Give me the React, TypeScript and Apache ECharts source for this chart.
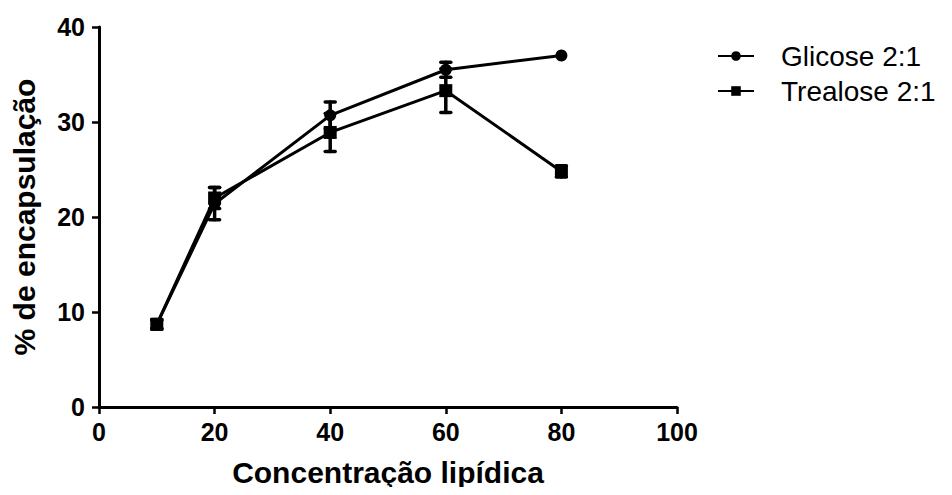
import React, { useEffect, useRef } from "react";
import * as echarts from "echarts";

const concentrations = [10, 20, 40, 60, 80];
const glicose = [8.7, 21.4, 30.7, 35.5, 37.0];
const glicoseErr = [0.4, 1.7, 1.4, 0.8, 0];
const trealose = [8.7, 22.0, 28.9, 33.3, 24.8];
const trealoseErr = [0.5, 1.1, 2.0, 2.3, 0.6];
const seriesNames = ["Glicose 2:1", "Trealose 2:1"];

const errorData = (vals: number[], errs: number[]) =>
  concentrations.map((x, i) => [x, vals[i] - errs[i], vals[i] + errs[i]]);

const renderError = (params: any, api: any) => {
  const x = api.value(0);
  const lo = api.coord([x, api.value(1)]);
  const hi = api.coord([x, api.value(2)]);
  if (Math.abs(hi[1] - lo[1]) < 0.5) return { type: "group", children: [] };
  const hw = 5;
  const style = { stroke: "#000", lineWidth: 3.5, lineCap: "round" };
  return {
    type: "group",
    children: [
      { type: "line", shape: { x1: lo[0], y1: lo[1], x2: hi[0], y2: hi[1] }, style },
      { type: "line", shape: { x1: lo[0] - hw, y1: lo[1], x2: lo[0] + hw, y2: lo[1] }, style },
      { type: "line", shape: { x1: hi[0] - hw, y1: hi[1], x2: hi[0] + hw, y2: hi[1] }, style },
    ],
  };
};

export default function App() {
  const ref = useRef<HTMLDivElement>(null);
  useEffect(() => {
    if (!ref.current) return;
    const chart = echarts.init(ref.current, undefined, { renderer: "svg" });
    const font = "'Liberation Sans', Arial, Helvetica, sans-serif";
    const axisCommon = {
      axisLine: { show: true, lineStyle: { color: "#000", width: 3 } },
      axisTick: { show: true, inside: false, length: 7, lineStyle: { color: "#000", width: 2.5 } },
      axisLabel: { color: "#000", fontFamily: font, fontWeight: "bold", fontSize: 25 },
      splitLine: { show: false },
      nameTextStyle: { color: "#000", fontFamily: font, fontWeight: "bold", fontSize: 30 },
    };
    chart.setOption({
      animation: false,
      backgroundColor: "#fff",
      grid: { left: 99, right: 275, top: 27, bottom: 88, containLabel: false },
      legend: {
        orient: "vertical",
        left: 712,
        top: 36,
        itemWidth: 36,
        itemHeight: 12,
        itemGap: 5,
        data: seriesNames,
        textStyle: {
          color: "#000",
          fontFamily: font,
          fontSize: 28,
          lineHeight: 30,
          padding: [0, 0, 0, 22],
        },
      },
      xAxis: {
        ...axisCommon,
        type: "value",
        min: 0,
        max: 100,
        interval: 20,
        name: "Concentração lipídica",
        nameLocation: "middle",
        nameGap: 50,
        axisLabel: { ...axisCommon.axisLabel, margin: 12 },
      },
      yAxis: {
        ...axisCommon,
        type: "value",
        min: 0,
        max: 40,
        interval: 10,
        name: "% de encapsulação",
        nameLocation: "middle",
        nameGap: 60,
        axisLabel: { ...axisCommon.axisLabel, margin: 14 },
      },
      series: [
        {
          name: seriesNames[0],
          type: "line",
          data: concentrations.map((x, i) => [x, glicose[i]]),
          symbol: "circle",
          symbolSize: 12,
          itemStyle: { color: "#000" },
          lineStyle: { color: "#000", width: 3 },
          z: 3,
        },
        {
          name: seriesNames[1],
          type: "line",
          data: concentrations.map((x, i) => [x, trealose[i]]),
          symbol: "rect",
          symbolSize: 13,
          itemStyle: { color: "#000" },
          lineStyle: { color: "#000", width: 3 },
          z: 3,
        },
        {
          type: "custom",
          data: errorData(glicose, glicoseErr),
          renderItem: renderError,
          z: 4,
          silent: true,
        },
        {
          type: "custom",
          data: errorData(trealose, trealoseErr),
          renderItem: renderError,
          z: 4,
          silent: true,
        },
      ],
    });
    return () => chart.dispose();
  }, []);
  return <div ref={ref} style={{ width: 952, height: 495, margin: -8 }} />;
}
